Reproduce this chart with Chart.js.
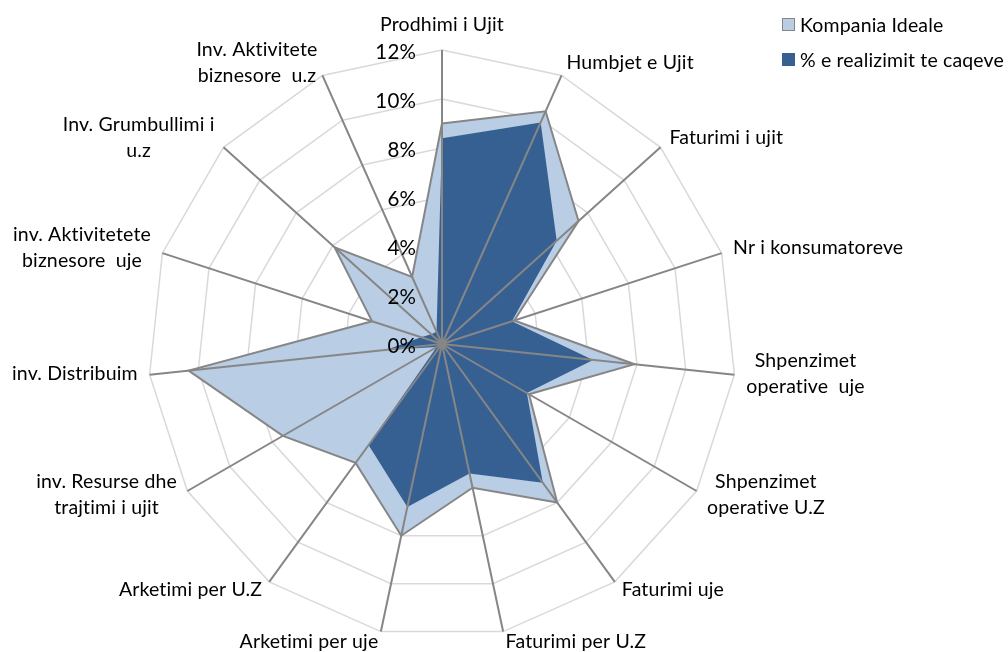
<!DOCTYPE html>
<html>
<head>
<meta charset="utf-8">
<script src="https://cdn.jsdelivr.net/npm/chart.js@4.4.1/dist/chart.umd.min.js"></script>
<style>
  html, body { margin: 0; padding: 0; background: #fff; }
  #wrap { position: relative; width: 1008px; height: 652px; }
  #legend { position: absolute; left: 782px; top: 7px; font: 19.5px Lato, sans-serif; color: #000;
            font-variant-ligatures: none; letter-spacing: 0.15px; }
  .item { display: flex; align-items: center; height: 35px; white-space: pre; }
  .sw { width: 13px; height: 13px; margin-right: 5px; box-sizing: border-box; }
</style>
</head>
<body>
<div id="wrap">
  <canvas id="chart" width="1008" height="652"></canvas>
  <div id="legend"></div>
</div>
<script>
// categories (multi-line ones as arrays)
const categories = [
  'Prodhimi i Ujit',
  'Humbjet e Ujit',
  'Faturimi i ujit',
  'Nr i konsumatoreve',
  ['Shpenzimet', 'operative  uje'],
  ['Shpenzimet', 'operative U.Z'],
  'Faturimi uje',
  'Faturimi per U.Z',
  'Arketimi per uje',
  'Arketimi per U.Z',
  ['inv. Resurse dhe', 'trajtimi i ujit'],
  'inv. Distribuim',
  ['inv. Aktivitetete', 'biznesore  uje'],
  ['Inv. Grumbullimi i', 'u.z'],
  ['Inv. Aktivitete', 'biznesore  u.z']
];
const idealValues    = [9.0, 10.4, 7.5, 3.1, 7.9, 4.1, 8.0, 6.0, 8.0, 6.0, 7.5, 10.4, 3.0, 5.9, 3.0];
const realizedValues = [8.4, 9.9, 6.3, 3.0, 6.2, 4.0, 7.0, 5.4, 6.8, 5.1, 0.25, 2.3, 0.9, 0.6, 0.55];
const seriesNames = ['Kompania Ideale', '% e realizimit te caqeve'];
const tickMin = 0, tickMax = 12, tickStep = 2;

const FONT = '19.5px Lato, sans-serif';
const TICK_FONT = '20.5px Lato, sans-serif';
const LINE_H = 26;

// spokes over the fills, then tick and category labels
const overlay = {
  id: 'overlay',
  afterDatasetsDraw(chart) {
    const ctx = chart.ctx;
    const r = chart.scales.r;
    ctx.save();
    ctx.strokeStyle = '#868686';
    ctx.lineWidth = 2;
    ctx.beginPath();
    for (let i = 0; i < categories.length; i++) {
      const p = r.getPointPositionForValue(i, r.max);
      ctx.moveTo(r.xCenter, r.yCenter);
      ctx.lineTo(p.x, p.y);
    }
    ctx.stroke();

    ctx.fillStyle = '#000';
    ctx.letterSpacing = '0.15px';
    ctx.font = TICK_FONT;
    ctx.textAlign = 'right';
    ctx.textBaseline = 'middle';
    r.ticks.forEach(t => {
      const d = r.getDistanceFromCenterForValue(t.value);
      ctx.fillText(t.label, r.xCenter - 26, r.yCenter - d + 2);
    });

    ctx.font = FONT;
    ctx.textAlign = 'center';
    categories.forEach((lab, i) => {
      const lines = Array.isArray(lab) ? lab : [lab];
      const p = r.getPointPosition(i, r.drawingArea + 12);
      const a = r.getIndexAngle(i);
      const s = Math.sin(a), c = Math.cos(a);
      const w = Math.max(...lines.map(l => ctx.measureText(l).width));
      const h = lines.length * LINE_H;
      let cx, cy;
      if (Math.abs(s) < 0.05) {
        cx = p.x;
        cy = c > 0 ? p.y - h / 2 : p.y + h / 2;
      } else {
        cx = s > 0 ? p.x + w / 2 : p.x - w / 2;
        cy = p.y - 2;
      }
      lines.forEach((l, k) => ctx.fillText(l, cx, cy + (k - (lines.length - 1) / 2) * LINE_H));
    });
    ctx.restore();
  }
};

new Chart(document.getElementById('chart'), {
  type: 'radar',
  data: {
    labels: categories,
    datasets: [
      {
        label: seriesNames[0],
        data: idealValues,
        backgroundColor: '#B9CDE5',
        borderColor: '#868686',
        borderWidth: 2,
        pointRadius: 0,
        fill: 'origin',
        order: 2
      },
      {
        label: seriesNames[1],
        data: realizedValues,
        backgroundColor: '#376092',
        borderWidth: 0,
        pointRadius: 0,
        fill: 'origin',
        order: 1
      }
    ]
  },
  options: {
    responsive: false,
    animation: false,
    layout: { padding: { left: 148, top: 50, right: 272, bottom: 14 } },
    elements: { line: { tension: 0 } },
    plugins: { legend: { display: false }, tooltip: { enabled: false } },
    scales: {
      r: {
        min: tickMin,
        max: tickMax,
        ticks: { display: false, stepSize: tickStep, callback: v => v + '%' },
        pointLabels: { display: false },
        grid: { color: '#D9D9D9', lineWidth: 1.5 },
        angleLines: { display: false }
      }
    }
  },
  plugins: [overlay]
});

// legend
const legend = document.getElementById('legend');
[['#B9CDE5', '1.5px solid #868686'], ['#376092', 'none']].forEach((sw, i) => {
  const item = document.createElement('div');
  item.className = 'item';
  const box = document.createElement('span');
  box.className = 'sw';
  box.style.background = sw[0];
  box.style.border = sw[1];
  item.appendChild(box);
  item.appendChild(document.createTextNode(seriesNames[i]));
  legend.appendChild(item);
});
</script>
</body>
</html>
